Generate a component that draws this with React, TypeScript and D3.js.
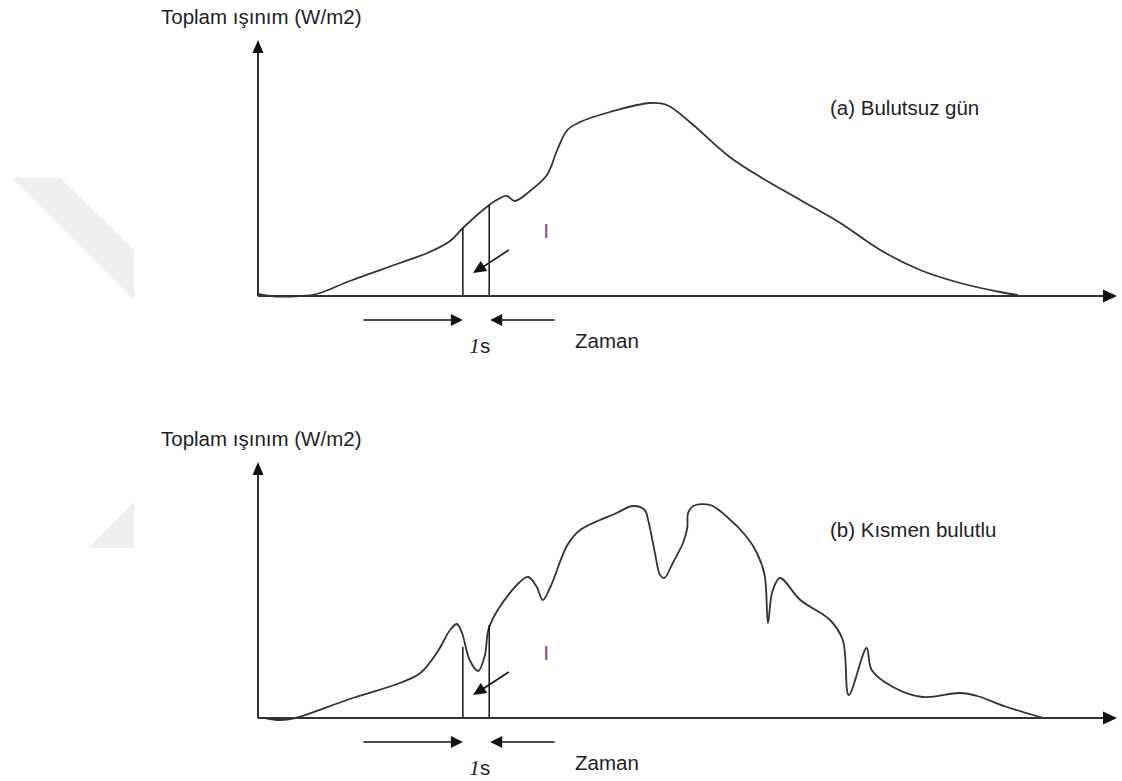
import { useEffect, useRef } from 'react';
import * as d3 from 'd3';

// time axis (arbitrary units 0..100) and irradiance (relative 0..100)
const timeA = [0, 1.4, 4.9, 6.9, 10.8, 16.7, 20.2, 22.6, 24.1, 27.2, 28.5, 29.3, 30.2, 32, 34, 35.2, 36.4, 37.9, 41.4, 46.1, 48.1, 50.8, 55.5, 59.1, 63.8, 68.5, 73.2, 77.9, 82.6, 87.3, 89.4];
const irrA = [0.8, 0, 0, 0.8, 6, 13.2, 17.6, 22, 27.2, 36.4, 39.2, 40, 38, 42, 48.4, 58.4, 66.4, 69.6, 73.6, 77.2, 76.4, 69.6, 55.6, 47.6, 38.4, 29.2, 18.4, 10.4, 5.2, 1.6, 0.4];

const timeB = [0.8, 2.6, 4.4, 10.8, 16.7, 19.1, 21.1, 22.6, 23.4, 24, 24.9, 25.9, 26.7, 27.1, 28.2, 30.8, 31.8, 32.8, 33.5, 34.4, 36.4, 37.9, 42.2, 44.1, 45.5, 45.9, 46.7, 47.3, 47.8, 48.8, 50, 50.5, 50.6, 51.2, 53.2, 55.2, 57.5, 58.7, 59.6, 60, 60.5, 61.4, 63.8, 67.3, 68.8, 69.5, 71.6, 72.2, 74.7, 78.2, 82.6, 84.6, 88.1, 92.4];
const irrB = [0, -0.8, 0, 7.6, 14, 18, 26.4, 35.2, 37.6, 34, 23.2, 18.8, 25.2, 35.2, 43.2, 54.4, 56.4, 52.4, 47.2, 52.4, 69.2, 75.2, 82, 84.8, 83.2, 79.2, 66, 57.2, 56, 62, 70, 76, 82, 84.8, 85.2, 80.4, 72.4, 66, 57.2, 38, 50.4, 56, 47.2, 39.2, 31.2, 9.2, 28, 19.2, 12.4, 8.4, 10, 8.8, 4.4, 0];

// the 1 s sampling window
const windowTimes = [24.1, 27.2];
const windowTopA = [27.2, 36.4];
const windowTopB = [28.4, 37.2];

const panelTitles = ['Toplam ışınım (W/m2)', 'Toplam ışınım (W/m2)'];
const panelLabels = ['(a) Bulutsuz gün', '(b) Kısmen bulutlu'];

export default function App() {
  const ref = useRef<SVGSVGElement | null>(null);

  useEffect(() => {
    document.body.style.margin = '0';
    if (!ref.current) return;
    const svg = d3.select(ref.current);
    svg.selectAll('*').remove();

    const font = '"Liberation Sans", Arial, sans-serif';
    const ink = '#333';
    const textInk = '#1e1e28';

    // faint watermark shapes on the left
    const wm = [
      [[12, 178], [60, 178], [134, 250], [134, 300]],
      [[88, 548], [134, 548], [134, 502]],
    ];
    wm.forEach((pts) => {
      svg.append('polygon')
        .attr('points', pts.map((p) => p.join(',')).join(' '))
        .attr('fill', '#efefef');
    });

    const x = d3.scaleLinear().domain([0, 100]).range([258, 1108]);

    function arrowHead(tx: number, ty: number, fx: number, fy: number, len: number, half: number) {
      const a = Math.atan2(ty - fy, tx - fx);
      const bx = tx - len * Math.cos(a);
      const by = ty - len * Math.sin(a);
      const px = -Math.sin(a) * half;
      const py = Math.cos(a) * half;
      return `M${tx},${ty}L${bx + px},${by + py}L${bx - px},${by - py}Z`;
    }

    const panels = [
      { base: 296, time: timeA, irr: irrA, tops: windowTopA },
      { base: 718, time: timeB, irr: irrB, tops: windowTopB },
    ];

    panels.forEach((p, i) => {
      const y = d3.scaleLinear().domain([0, 100]).range([p.base, p.base - 250]);
      const g = svg.append('g');
      const x0 = x(0);

      // axes
      g.append('line').attr('x1', x0).attr('y1', p.base).attr('x2', x0).attr('y2', p.base - 246)
        .attr('stroke', ink).attr('stroke-width', 2);
      g.append('path').attr('d', arrowHead(x0, p.base - 256, x0, p.base, 13, 5.5)).attr('fill', '#111');
      g.append('line').attr('x1', x0).attr('y1', p.base).attr('x2', 1106).attr('y2', p.base)
        .attr('stroke', ink).attr('stroke-width', 2);
      g.append('path').attr('d', arrowHead(1117, p.base, x0, p.base, 14, 6.5)).attr('fill', '#111');

      // irradiance curve
      const line = d3.line<number>()
        .x((_, k) => x(p.time[k]))
        .y((d) => y(d))
        .curve(d3.curveCatmullRom.alpha(0.5));
      g.append('path').attr('d', line(p.irr) as string)
        .attr('fill', 'none').attr('stroke', ink).attr('stroke-width', 1.8);

      // 1 s window
      windowTimes.forEach((t, k) => {
        g.append('line').attr('x1', x(t)).attr('x2', x(t))
          .attr('y1', y(p.tops[k])).attr('y2', p.base)
          .attr('stroke', '#111').attr('stroke-width', 1.5);
      });

      // small diagonal arrow
      const ax1 = x(29.5), ay1 = y(18.4), ax2 = x(25.3), ay2 = y(9.2);
      g.append('line').attr('x1', ax1).attr('y1', ay1).attr('x2', ax2 + 6).attr('y2', ay2 - 3.5)
        .attr('stroke', '#111').attr('stroke-width', 1.5);
      g.append('path').attr('d', arrowHead(ax2, ay2, ax1, ay1, 13, 6)).attr('fill', '#111');

      // horizontal arrows under the axis
      const ha = p.base + 24;
      g.append('line').attr('x1', x(12.4)).attr('y1', ha).attr('x2', x(windowTimes[0]) - 8).attr('y2', ha)
        .attr('stroke', '#111').attr('stroke-width', 1.5);
      g.append('path').attr('d', arrowHead(x(windowTimes[0]), ha, x(12.4), ha, 12, 6)).attr('fill', '#111');
      g.append('line').attr('x1', x(34.9)).attr('y1', ha).attr('x2', x(windowTimes[1]) + 8).attr('y2', ha)
        .attr('stroke', '#111').attr('stroke-width', 1.5);
      g.append('path').attr('d', arrowHead(x(windowTimes[1]) + 1, ha, x(34.9), ha, 12, 6)).attr('fill', '#111');

      // texts
      g.append('text').attr('x', 161).attr('y', p.base - 272)
        .attr('font-family', font).attr('font-size', 20.5).attr('fill', textInk)
        .text(panelTitles[i]);
      g.append('text').attr('x', 830).attr('y', p.base - 181)
        .attr('font-family', font).attr('font-size', 20.5).attr('fill', textInk)
        .text(panelLabels[i]);
      g.append('text').attr('x', x(33.9)).attr('y', y(23.2)).attr('text-anchor', 'middle')
        .attr('font-family', font).attr('font-size', 21).attr('fill', '#7d4a96')
        .text('I');
      g.append('text').attr('x', 575).attr('y', p.base + 52)
        .attr('font-family', font).attr('font-size', 20.5).attr('fill', textInk)
        .text('Zaman');
      const s = g.append('text').attr('x', 469).attr('y', p.base + 57).attr('fill', textInk);
      s.append('tspan').attr('font-family', '"Liberation Serif", serif').attr('font-style', 'italic')
        .attr('font-size', 22).text('1');
      s.append('tspan').attr('font-family', font).attr('font-size', 20.5).text('s');
    });
  }, []);

  return <svg ref={ref} width={1122} height={781} style={{ display: 'block', background: '#fff' }} />;
}
